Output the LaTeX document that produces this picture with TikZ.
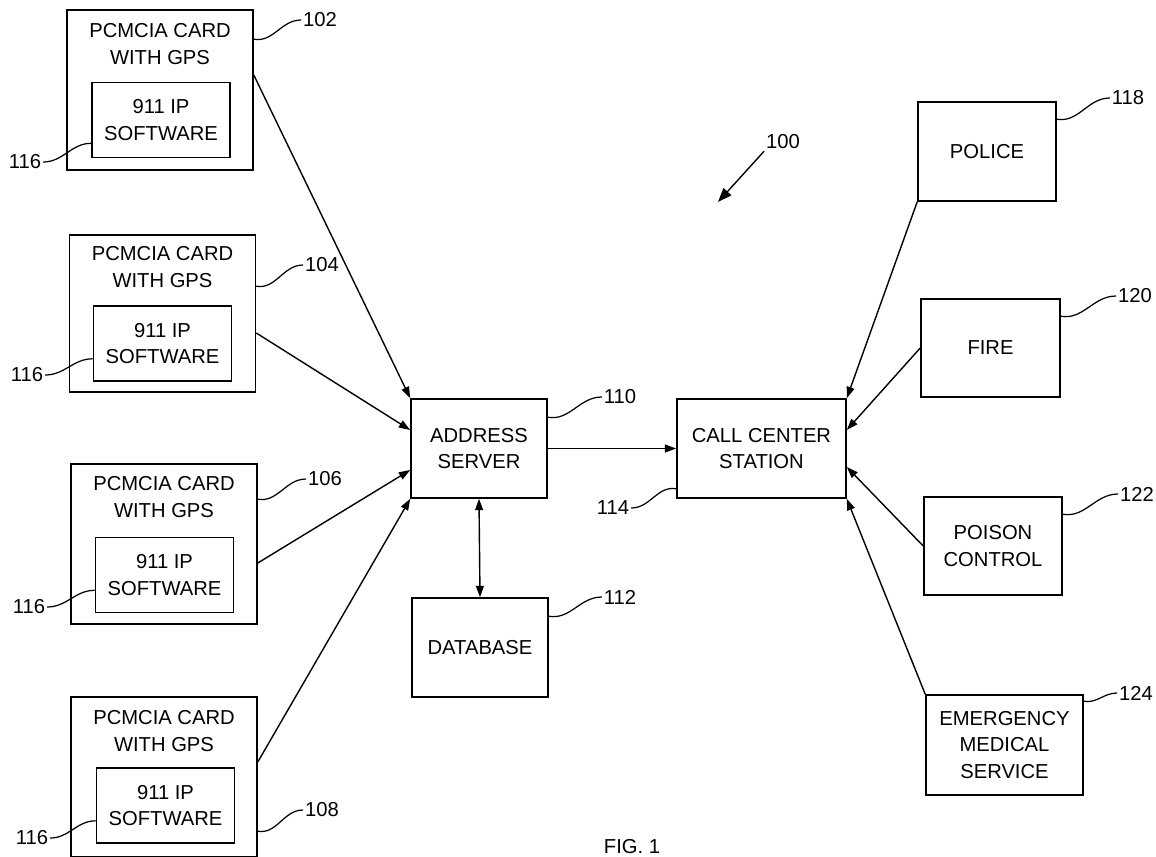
\documentclass[tikz,border=0pt]{standalone}
\usepackage{fontspec}
\setmainfont{Liberation Sans}
\usetikzlibrary{arrows.meta,positioning}

\begin{document}
\begin{tikzpicture}[
    x=0.02cm, y=-0.02cm,
    card/.style={rectangle, draw, line width=0.9pt, minimum width=3.72cm, minimum height=3.2cm, inner sep=0pt},
    cardtitle/.style={align=center, font=\fontsize{11.5}{15.5}\selectfont},
    soft/.style={rectangle, draw, line width=0.9pt, minimum width=2.76cm, minimum height=1.5cm, inner sep=0pt, align=center, font=\fontsize{11.5}{15}\selectfont},
    block/.style={rectangle, draw, line width=0.9pt, minimum width=2.72cm, minimum height=1.98cm, inner sep=0pt, align=center, font=\fontsize{11.5}{15}\selectfont},
    num/.style={font=\fontsize{11.5}{13}\selectfont, inner sep=1pt},
    lead/.style={line width=0.7pt},
    link/.style={->, line width=0.8pt},
    >={Triangle[length=6.5pt,width=4.5pt]}
]
    \useasboundingbox (0,0) rectangle (1156,856);

    % PCMCIA cards
    \node[card] (card1) at (160,90) {};
    \node[cardtitle] (card1t) at (160,44) {PCMCIA CARD\\WITH GPS};
    \node[soft] (soft1) at (161,120) {911 IP\\SOFTWARE};

    \node[card, minimum height=3.14cm] (card2) at (162.5,313.5) {};
    \node[cardtitle] (card2t) at (162.5,267) {PCMCIA CARD\\WITH GPS};
    \node[soft] (soft2) at (162.5,343.5) {911 IP\\SOFTWARE};

    \node[card] (card3) at (164,544) {};
    \node[cardtitle] (card3t) at (164,497) {PCMCIA CARD\\WITH GPS};
    \node[soft] (soft3) at (164.5,575) {911 IP\\SOFTWARE};

    \node[card] (card4) at (164,777) {};
    \node[cardtitle] (card4t) at (164,731) {PCMCIA CARD\\WITH GPS};
    \node[soft] (soft4) at (165.5,805.5) {911 IP\\SOFTWARE};

    % Server, database, call center
    \node[block] (srv) at (479,448.5) {ADDRESS\\SERVER};
    \node[block] (db) at (480,647.5) {DATABASE};
    \node[block, minimum width=3.38cm] (ccs) at (761.5,448.5) {CALL CENTER\\STATION};

    % Agencies
    \node[block, minimum width=2.76cm] (pol) at (987,151.5) {POLICE};
    \node[block, minimum width=2.78cm, minimum height=1.96cm] (fire) at (990.5,348) {FIRE};
    \node[block, minimum width=2.76cm, minimum height=1.96cm] (poi) at (993,546) {POISON\\CONTROL};
    \node[block, minimum width=3.14cm, minimum height=2cm] (ems) at (1004.5,745) {EMERGENCY\\MEDICAL\\SERVICE};

    % Reference numerals
    \node[num] (n100) at (783,142) {100};
    \node[num] (n102) at (320,20) {102};
    \node[num] (n104) at (322,265) {104};
    \node[num] (n106) at (325,479) {106};
    \node[num] (n108) at (322,810) {108};
    \node[num] (n110) at (620,397) {110};
    \node[num] (n112) at (620,597) {112};
    \node[num] (n114) at (613,508) {114};
    \node[num] (n118) at (1128,98) {118};
    \node[num] (n120) at (1135,296) {120};
    \node[num] (n122) at (1137,494) {122};
    \node[num] (n124) at (1136,693) {124};
    \node[num] (n116a) at (25,162) {116};
    \node[num] (n116b) at (27,375) {116};
    \node[num] (n116c) at (29,607) {116};
    \node[num] (n116d) at (32,838) {116};
    \node[font=\fontsize{11.5}{14}\selectfont, anchor=base] (fig) at (632,853) {FIG. 1};

    % Lead lines
    \draw[lead] ([yshift=-0.6cm]card1.north east) to[out=-10,in=180] (n102.west);
    \draw[lead] ([yshift=-1.04cm]card2.north east) to[out=-10,in=180] (n104.west);
    \draw[lead] ([yshift=-0.72cm]card3.north east) to[out=-10,in=180] (n106.west);
    \draw[lead] ([yshift=-2.7cm]card4.north east) to[out=-10,in=180] (n108.west);
    \draw[lead] ([yshift=-0.38cm]srv.north east) to[out=-10,in=180] (n110.west);
    \draw[lead] ([yshift=-0.38cm]db.north east) to[out=-10,in=180] (n112.west);
    \draw[lead] (n114.east) to[out=0,in=170] ([yshift=0.2cm]ccs.south west);
    \draw[lead] ([yshift=-0.36cm]pol.north east) to[out=-10,in=180] (n118.west);
    \draw[lead] ([yshift=-0.36cm]fire.north east) to[out=-10,in=180] (n120.west);
    \draw[lead] ([yshift=-0.36cm]poi.north east) to[out=-10,in=180] (n122.west);
    \draw[lead] ([yshift=-0.14cm]ems.north east) to[out=-10,in=180] (n124.west);
    \draw[lead] (n116a.east) to[out=0,in=180] ([yshift=0.3cm]soft1.south west);
    \draw[lead] (n116b.east) to[out=0,in=180] ([yshift=0.46cm]soft2.south west);
    \draw[lead] (n116c.east) to[out=0,in=180] ([yshift=0.46cm]soft3.south west);
    \draw[lead] (n116d.east) to[out=0,in=180] ([yshift=0.46cm]soft4.south west);
    \draw[link, >={Triangle[length=8pt,width=6pt]}] (n100.south west) -- (718,202);

    % Links
    \draw[link] ([yshift=0.3cm]card1.east) -- (srv.north west);
    \draw[link] ([yshift=-0.39cm]card2.east) -- ([yshift=0.37cm]srv.west);
    \draw[link] ([yshift=-0.38cm]card3.east) -- ([yshift=-0.43cm]srv.west);
    \draw[link] ([yshift=0.3cm]card4.east) -- (srv.south west);
    \draw[link] (srv) -- (ccs);
    \draw[<->, line width=0.8pt] (srv.south) -- (db.north);
    \draw[link] (pol.south west) -- (ccs.north east);
    \draw[link] (fire.west) -- ([yshift=0.37cm]ccs.east);
    \draw[link] (poi.west) -- ([yshift=-0.37cm]ccs.east);
    \draw[link] (ems.north west) -- (ccs.south east);
\end{tikzpicture}
\end{document}
